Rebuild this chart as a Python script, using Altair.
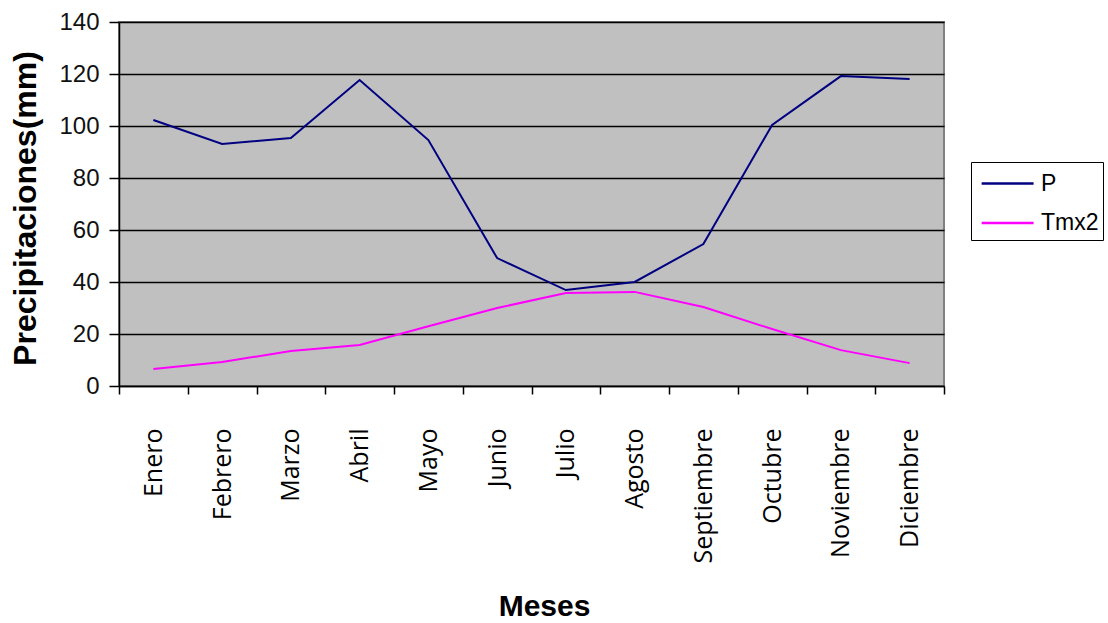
import altair as alt
import pandas as pd

months = ["Enero", "Febrero", "Marzo", "Abril", "Mayo", "Junio", "Julio",
          "Agosto", "Septiembre", "Octubre", "Noviembre", "Diciembre"]
p_values = [102.3, 93.1, 95.4, 117.7, 94.6, 49.2, 36.9, 40.0, 54.6, 100.4, 119.2, 118.1]
tmx2_values = [6.5, 9.2, 13.5, 15.8, 23.0, 30.0, 35.8, 36.2, 30.4, 21.9, 13.8, 8.8]
series_names = ["P", "Tmx2"]
series_colors = ["#000080", "#ff00ff"]
y_ticks = [0, 20, 40, 60, 80, 100, 120, 140]

df = pd.DataFrame({
    "Mes": months * 2,
    "Serie": [series_names[0]] * 12 + [series_names[1]] * 12,
    "Valor": p_values + tmx2_values,
})

chart = alt.Chart(df).mark_line(strokeWidth=2).encode(
    x=alt.X(
        "Mes:N", sort=months, bandPosition=0.5,
        scale=alt.Scale(type="band", paddingInner=0, paddingOuter=0),
        axis=alt.Axis(
            title="Meses", labelAngle=270, tickBand="extent", grid=False,
            labelFont="Open Sans", labelFontSize=25, labelColor="#000000",
            labelPadding=34, tickSize=8, tickColor="#000000", tickWidth=1.5,
            domainColor="#000000", domainWidth=1.5, labelOverlap=False,
            titleFont="Liberation Sans", titleFontSize=30, titleFontWeight="bold",
            titleX=425, titleY=229, titleBaseline="alphabetic", titleColor="#000000",
        ),
    ),
    y=alt.Y(
        "Valor:Q",
        scale=alt.Scale(domain=[0, 140], nice=False),
        axis=alt.Axis(
            title="Precipitaciones(mm)", values=y_ticks, grid=True,
            gridColor="#000000", gridWidth=1.5, gridOpacity=1,
            labelFont="Liberation Sans", labelFontSize=24, labelColor="#111111",
            labelPadding=10, tickSize=10, tickColor="#000000", tickWidth=1.5,
            domainColor="#000000", domainWidth=1.5,
            titleFont="Liberation Sans", titleFontSize=32, titleFontWeight="bold",
            titleX=-84, titleY=186, titleBaseline="alphabetic", titleColor="#000000",
        ),
    ),
    color=alt.Color(
        "Serie:N",
        scale=alt.Scale(domain=series_names, range=series_colors),
        legend=alt.Legend(
            title=None, orient="none", legendX=852, legendY=140,
            strokeColor="#000000", fillColor="#ffffff", padding=4.5,
            symbolType="M-0.7,0H2.65", symbolSize=961, symbolStrokeWidth=2.5,
            labelFont="Liberation Sans", labelFontSize=23, labelColor="#000000",
            labelOffset=31.5, rowPadding=10.5,
        ),
    ),
).properties(
    width=825, height=364,
    autosize=alt.AutoSizeParams(type="none"),
    padding={"left": 119, "top": 22, "right": 164, "bottom": 237},
    background="#ffffff",
).configure_view(
    fill="#c0c0c0", stroke="#808080", strokeWidth=2,
)

chart.save("out.html", embed_options={"renderer": "svg", "actions": False})
